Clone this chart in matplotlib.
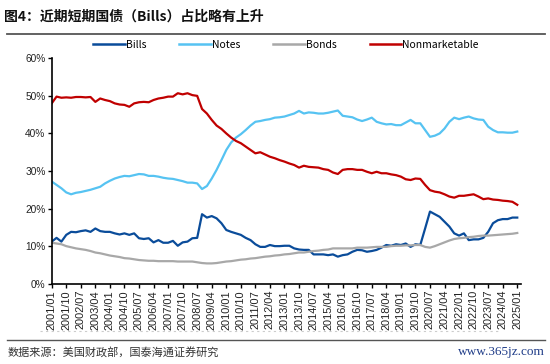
import numpy as np
import matplotlib
matplotlib.use("Agg")
import matplotlib.pyplot as plt
from matplotlib.lines import Line2D

plt.rcParams['font.family'] = ['Liberation Sans', 'Noto Sans CJK SC', 'DejaVu Sans']

# quarterly readings, 2001/01 .. 2025/01 (share of total debt, %)
bills = [11.2, 12.2, 11.2, 13.0, 13.8, 13.7, 14.0, 14.2, 13.8, 14.7, 14.0, 13.8, 13.8, 13.4, 13.1, 13.4,
         13.0, 13.4, 12.1, 11.9, 12.1, 11.0, 11.6, 10.9, 10.9, 11.4, 10.1, 11.0, 11.2, 12.1, 12.2,
         18.5, 17.6,
         18.0, 17.4, 16.1, 14.3, 13.8, 13.4, 13.0, 12.2, 11.6, 10.5, 9.8, 9.8, 10.3, 10.0, 10.0, 10.1,
         10.1, 9.4, 9.1, 9.0, 9.0, 7.8, 7.8, 7.8, 7.6, 7.8, 7.2, 7.6, 7.8, 8.5, 9.0,
         8.9,
         8.5, 8.7, 9.0, 9.6, 10.3, 10.1, 10.5, 10.3, 10.7, 9.8, 10.5, 10.3, 14.7, 19.2, 18.5, 17.8,
         16.5, 15.2, 13.4, 12.8, 13.4, 11.6, 11.8, 11.8, 12.2, 13.8, 16.1, 16.9, 17.2, 17.2, 17.6, 17.6]
notes = [27.2, 26.3, 25.4, 24.3, 23.8, 24.2, 24.4, 24.7, 25.0, 25.4, 25.8, 26.7, 27.4, 28.0, 28.4, 28.7,
         28.6, 28.9, 29.2, 29.1, 28.7, 28.7, 28.5, 28.2, 28.0, 27.9, 27.6, 27.3, 26.9, 26.9, 26.7,
         25.2, 26.0,
         28.0, 30.3, 32.9, 35.6, 37.6, 38.9, 39.8, 40.9, 42.1, 43.1, 43.3, 43.6, 43.8, 44.2, 44.3, 44.5,
         44.9, 45.3, 46.0, 45.3, 45.6, 45.5, 45.3, 45.3, 45.5, 45.8, 46.1, 44.7, 44.5, 44.3, 43.7,
         43.3,
         43.7, 44.2, 43.1, 42.7, 42.4, 42.5, 42.2, 42.2, 42.9, 43.6, 42.7, 42.7, 40.9, 39.1, 39.4, 40.0,
         41.3, 43.1, 44.2, 43.8, 44.2, 44.5, 44.0, 43.7, 43.6, 41.8, 40.9, 40.3, 40.3, 40.2, 40.2, 40.5]
bonds = [10.9, 10.7, 10.5, 10.0, 9.7, 9.4, 9.2, 9.0, 8.7, 8.3, 8.1, 7.8, 7.5, 7.3, 7.1, 6.8,
         6.7, 6.5, 6.3, 6.2, 6.1, 6.1, 6.0, 6.0, 6.0, 6.0, 5.9, 5.9, 5.9, 5.9, 5.7,
         5.5, 5.4,
         5.4, 5.5, 5.7, 5.9, 6.0, 6.2, 6.4, 6.5, 6.7, 6.8, 7.0, 7.2, 7.3, 7.5, 7.6, 7.8,
         7.9, 8.1, 8.3, 8.3, 8.5, 8.7, 8.8, 9.0, 9.1, 9.4, 9.4, 9.4, 9.4, 9.4, 9.6,
         9.6,
         9.6, 9.7, 9.8, 9.8, 9.8, 10.0, 10.1, 10.1, 10.2, 10.2, 10.3, 10.3, 9.8, 9.6, 10.0, 10.5,
         11.0, 11.5, 11.9, 12.1, 12.2, 12.4, 12.5, 12.7, 12.8, 12.8, 12.9, 13.0, 13.1, 13.2, 13.3, 13.5]
nonmarketable = [48.0, 49.8, 49.5, 49.6, 49.5, 49.7, 49.7, 49.6, 49.7, 48.4, 49.3, 48.9, 48.6, 48.0, 47.7, 47.6,
                 47.1, 48.0, 48.3, 48.4, 48.3, 48.9, 49.3, 49.5, 49.8, 49.8, 50.7, 50.4, 50.7, 50.2, 50.0,
                 46.5, 45.3,
                 43.6, 42.1, 41.2, 40.0, 38.9, 38.0, 37.4, 36.5, 35.6, 34.7, 35.0, 34.4, 33.8, 33.4, 32.9, 32.5,
                 32.0, 31.6, 30.9, 31.4, 31.1, 31.0, 30.9, 30.5, 30.3, 29.6, 29.2, 30.3, 30.5, 30.5, 30.3,
                 30.3,
                 29.8, 29.4, 29.8, 29.4, 29.4, 29.1, 28.9, 28.5, 27.8, 27.6, 28.0, 27.9, 26.3, 24.9, 24.5, 24.3,
                 23.8, 23.2, 22.9, 23.4, 23.4, 23.6, 23.8, 23.2, 22.5, 22.7, 22.4, 22.3, 22.1, 22.0, 21.8, 21.0]

tick_labels = ['2001/01', '2001/10', '2002/07', '2003/04', '2004/01', '2004/10', '2005/07', '2006/04',
               '2007/01', '2007/10', '2008/07', '2009/04', '2010/01', '2010/10', '2011/07', '2012/04',
               '2013/01', '2013/10', '2014/07', '2015/04', '2016/01', '2016/10', '2017/07', '2018/04',
               '2019/01', '2019/10', '2020/07', '2021/04', '2022/01', '2022/10', '2023/07', '2024/04',
               '2025/01']

months = np.arange(0, 3 * len(bills), 3)   # months since 2001/01
tick_pos = np.arange(0, 9 * len(tick_labels), 9)

fig = plt.figure(figsize=(5.5, 3.64), dpi=100)
ax = fig.add_axes([51.7 / 550, 80.3 / 364, 468.8 / 550, 225.4 / 364])

series = [("Bills", bills, "#0A4C9A"), ("Notes", notes, "#56C3F2"),
          ("Bonds", bonds, "#A8A8A8"), ("Nonmarketable", nonmarketable, "#C00000")]
for name, vals, col in series:
    ax.plot(months, vals, color=col, lw=1.6, label=name, solid_joinstyle='round')

ax.set_xlim(0, 290)
ax.set_ylim(0, 60)
ax.set_yticks(range(0, 61, 10))
ax.set_yticklabels([f"{v}%" for v in range(0, 61, 10)], fontsize=7.3, color='#222222')
ax.set_xticks(tick_pos)
ax.set_xticklabels(tick_labels, rotation=90, fontsize=7.9, color='#222222')
ax.tick_params(axis='both', direction='out', length=3, width=1, pad=1.5, color='black')
for s in ('top', 'right'):
    ax.spines[s].set_visible(False)
for s in ('left', 'bottom'):
    ax.spines[s].set_linewidth(1.2)
    ax.spines[s].set_color('black')

handles = [Line2D([], [], color=c, lw=1.8) for _, _, c in series]
leg = fig.legend(handles, [n for n, _, _ in series], loc='center', ncol=4,
                 bbox_to_anchor=(286 / 550, 1 - 45 / 364), frameon=False,
                 handlelength=3.0, handletextpad=0.1, columnspacing=3.2,
                 prop={'family': ['Noto Sans CJK SC'], 'size': 7.5})

# header and footer
fig.text(4 / 550, 1 - 17 / 364, "图4：近期短期国债（Bills）占比略有上升", fontsize=10, fontweight='bold',
         family=['Noto Sans CJK SC', 'DejaVu Sans'], va='center', ha='left', color='#111111')
fig.add_artist(Line2D([7 / 550, 545 / 550], [1 - 34 / 364] * 2, color='#555555', lw=1.3))
fig.add_artist(Line2D([40 / 550, 500 / 550], [1 - 331 / 364] * 2, color='#cccccc', lw=0.8,
                      linestyle=(0, (2, 3))))
fig.add_artist(Line2D([7 / 550, 545 / 550], [1 - 340 / 364] * 2, color='#555555', lw=1.0))
fig.text(8 / 550, 1 - 353 / 364, "数据来源：美国财政部，国泰海通证券研究", fontsize=8,
         family=['Noto Sans CJK SC', 'DejaVu Sans'], va='center', ha='left', color='#333333')
fig.text(545 / 550, 1 - 352 / 364, "www.365jz.com", fontsize=9.5, family=['Liberation Serif'],
         va='center', ha='right', color='#1F3C88')

fig.savefig("out.png", dpi=100)
